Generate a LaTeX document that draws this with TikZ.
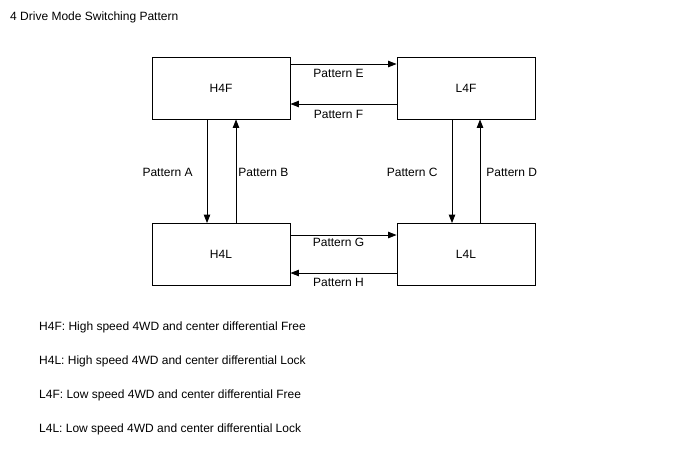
\documentclass[tikz,border=0pt]{standalone}
\usepackage{fontspec}
\setmainfont{Liberation Sans}
\usetikzlibrary{arrows.meta}
\begin{document}
\begin{tikzpicture}[
    x=1pt, y=-1pt, font=\fontsize{12}{14}\selectfont,
    mode/.style={draw,line width=0.9pt,minimum width=138pt,minimum height=62pt,inner sep=0pt},
    flow/.style={line width=0.9pt,-{Triangle[length=8.5pt,width=6.5pt]}},
    lbl/.style={inner sep=0pt},
  ]
  \useasboundingbox (0,0) rectangle (688,463);
  \node[lbl,anchor=base west] (title) at (10,20.5) {4 Drive Mode Switching Pattern};

  % Modes
  \node[mode] (h4f) at (221,88) {H4F};
  \node[mode] (l4f) at (466,88) {L4F};
  \node[mode] (h4l) at (221,254.5) {H4L};
  \node[mode] (l4l) at (466,254.5) {L4L};

  % Horizontal switching
  \draw[flow] ([yshift=24pt]h4f.east) -- ([yshift=24pt]l4f.west) node[lbl,midway,xshift=-5pt,below=5pt] {Pattern E};
  \draw[flow] ([yshift=-16pt]l4f.west) -- ([yshift=-16pt]h4f.east) node[lbl,midway,xshift=-5pt,below=6pt] {Pattern F};
  \draw[flow] ([yshift=19.5pt]h4l.east) -- ([yshift=19.5pt]l4l.west) node[lbl,midway,xshift=-5pt,below=3pt] {Pattern G};
  \draw[flow] ([yshift=-18.5pt]l4l.west) -- ([yshift=-18.5pt]h4l.east) node[lbl,midway,xshift=-5pt,below=5pt] {Pattern H};

  % Vertical switching
  \draw[flow] ([xshift=-14pt]h4f.south) -- ([xshift=-14pt]h4l.north) node[lbl,midway,yshift=-1pt,left=14pt] {Pattern A};
  \draw[flow] ([xshift=15pt]h4l.north) -- ([xshift=15pt]h4f.south) node[lbl,midway,yshift=-1pt,right=2pt] {Pattern B};
  \draw[flow] ([xshift=-14pt]l4f.south) -- ([xshift=-14pt]l4l.north) node[lbl,midway,yshift=-1pt,left=14pt] {Pattern C};
  \draw[flow] ([xshift=14pt]l4l.north) -- ([xshift=14pt]l4f.south) node[lbl,midway,yshift=-1pt,right=6pt] {Pattern D};

  % Legend
  \node[lbl,anchor=base west] (k1) at (39,330.5) {H4F: High speed 4WD and center differential Free};
  \node[lbl,anchor=base west] (k2) at (39,364.5) {H4L: High speed 4WD and center differential Lock};
  \node[lbl,anchor=base west] (k3) at (39,398.5) {L4F: Low speed 4WD and center differential Free};
  \node[lbl,anchor=base west] (k4) at (39,432) {L4L: Low speed 4WD and center differential Lock};
\end{tikzpicture}
\end{document}
